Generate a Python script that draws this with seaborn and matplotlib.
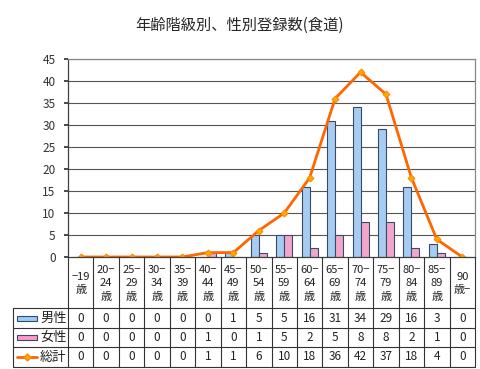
import numpy as np
import pandas as pd
import matplotlib
matplotlib.use('Agg')
import matplotlib.pyplot as plt
import seaborn as sns
from matplotlib.patches import Rectangle

# data
ages = ['−19\n歳', '20−\n24\n歳', '25−\n29\n歳', '30−\n34\n歳', '35−\n39\n歳',
        '40−\n44\n歳', '45−\n49\n歳', '50−\n54\n歳', '55−\n59\n歳', '60−\n64\n歳',
        '65−\n69\n歳', '70−\n74\n歳', '75−\n79\n歳', '80−\n84\n歳', '85−\n89\n歳',
        '90\n歳−']
male = [0, 0, 0, 0, 0, 0, 1, 5, 5, 16, 31, 34, 29, 16, 3, 0]
female = [0, 0, 0, 0, 0, 1, 0, 1, 5, 2, 5, 8, 8, 2, 1, 0]
total = [0, 0, 0, 0, 0, 1, 1, 6, 10, 18, 36, 42, 37, 18, 4, 0]
series = ['男性', '女性', '総計']
title = '年齢階級別、性別登録数(食道)'

sns.set_theme(style='white')
plt.rcParams['font.family'] = ['Noto Sans CJK JP', 'DejaVu Sans']

W, H = 480, 369
L, R, T, B = 68, 475, 59, 257
fig = plt.figure(figsize=(4.8, 3.69), dpi=100)
fig.patch.set_facecolor('white')
ax = fig.add_axes([L / W, 1 - B / H, (R - L) / W, (B - T) / H])

df = pd.DataFrame({'age': ages * 2,
                   'sex': [series[0]] * len(ages) + [series[1]] * len(ages),
                   'n': male + female})
sns.barplot(data=df, x='age', y='n', hue='sex', palette=['#99CCFF', '#FF99CC'],
            width=0.63, edgecolor='#3a4a66', linewidth=0.8, ax=ax, legend=False)
sns.lineplot(x=np.arange(len(ages)), y=total, color='#FF6600', lw=2, marker='D',
             ms=3.5, mfc='#FFAA00', mec='#FF8800', ax=ax)

ax.set_xlim(-0.5, len(ages) - 0.5)
ax.set_ylim(0, 45)
ax.set_yticks(range(0, 46, 5))
ax.set_xticks([])
ax.set_xlabel('')
ax.set_ylabel('')
ax.tick_params(axis='y', labelsize=8.5, colors='#333333', length=3, left=True, pad=6)
for y in range(5, 46, 5):
    ax.axhline(y, color='#555555', lw=0.8, zorder=0)
for s in ['top', 'right']:
    ax.spines[s].set_color('#888888')
for s in ['left', 'bottom']:
    ax.spines[s].set_color('#404040')
for s in ax.spines.values():
    s.set_linewidth(0.9)

fig.text(0.5, 1 - 25 / H, title, ha='center', va='center', fontsize=11)

# data table below the plot, in pixel coordinates
tab = fig.add_axes([0, 0, 1, 1])
tab.set_xlim(0, W)
tab.set_ylim(H, 0)
tab.axis('off')
n = len(ages)
xs = [L + (R - L) * i / n for i in range(n + 1)]
rows = [257, 308, 328, 347, 367]
lc = '#333333'
for x in xs:
    tab.plot([x, x], [rows[0], rows[-1]], color=lc, lw=0.8)
tab.plot([13, 13], [rows[1], rows[-1]], color=lc, lw=0.8)
for y in rows[1:]:
    tab.plot([13, R], [y, y], color=lc, lw=0.8)

for i, lab in enumerate(ages):
    cx = (xs[i] + xs[i + 1]) / 2
    tab.text(cx, (rows[0] + rows[1]) / 2 + 1, lab, ha='center', va='center',
             fontsize=8, linespacing=1.45, color='#222222')
    for vals, (y0, y1) in zip([male, female, total], zip(rows[1:-1], rows[2:])):
        tab.text(cx, (y0 + y1) / 2, str(vals[i]), ha='center', va='center',
                 fontsize=8.5, color='#222222')

# legend keys in the left column
for k, (y0, y1) in enumerate(zip(rows[1:-1], rows[2:])):
    ym = (y0 + y1) / 2
    if k < 2:
        tab.add_patch(Rectangle((17, ym - 2.5), 20, 5,
                                facecolor=['#99CCFF', '#FF99CC'][k],
                                edgecolor='#3a4a66', lw=0.8))
    else:
        tab.plot([17, 37], [ym, ym], color='#FF6600', lw=2)
        tab.plot([27], [ym], marker='D', ms=3.5, mfc='#FFAA00', mec='#FF8800')
    tab.text(40, ym, series[k], ha='left', va='center', fontsize=9.5, color='#222222')

fig.savefig('out.png', dpi=100)
